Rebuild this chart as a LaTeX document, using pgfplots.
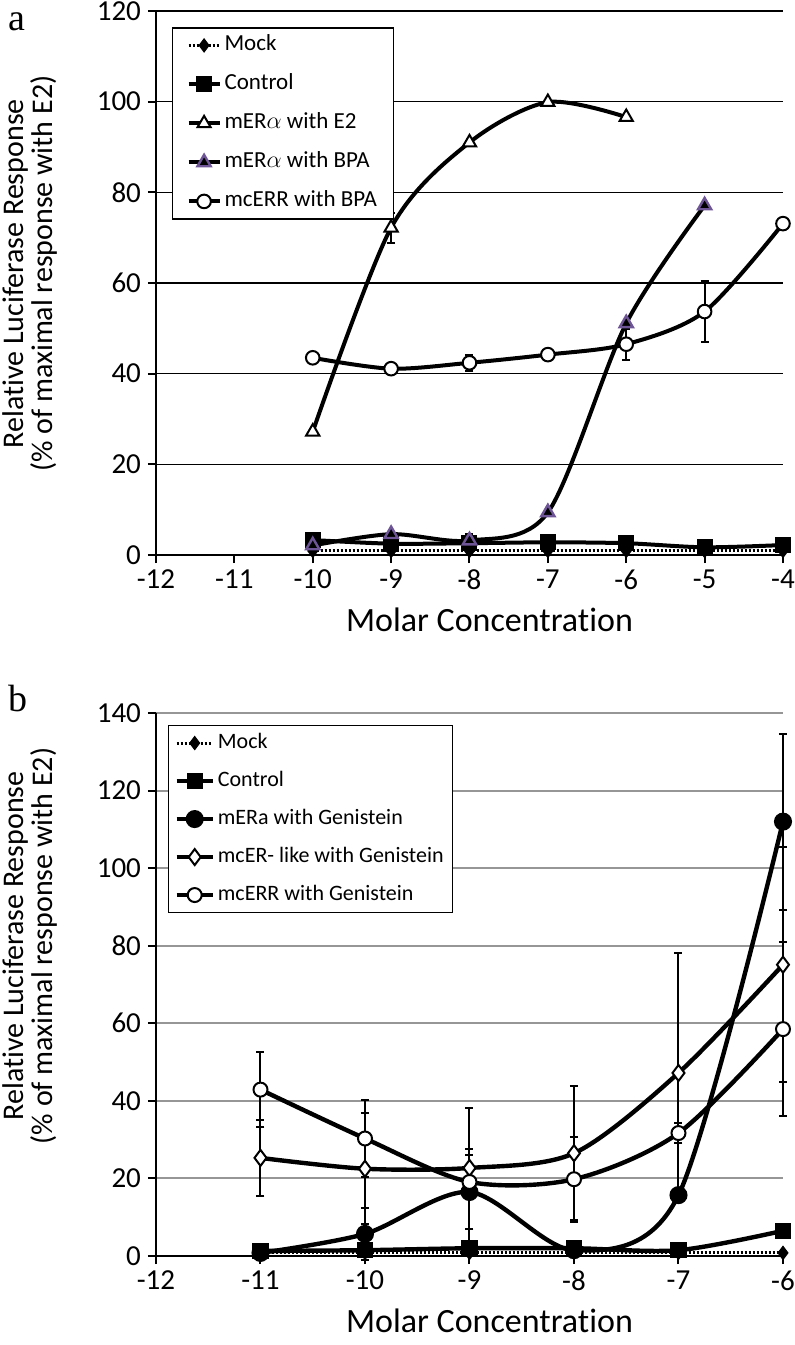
\documentclass[border=0pt]{standalone}
\usepackage{pgfplots}
\pgfplotsset{compat=1.18}
\usepackage{fontspec}
\setmainfont{Carlito}[Ligatures={NoCommon}]
\newfontfamily\panelfont{Liberation Serif}
\definecolor{bpapurple}{RGB}{110,85,150}
\definecolor{gridgray}{RGB}{150,150,150}

\pgfplotsset{
  common/.style={
    scale only axis, width=313.5pt, clip=false,
    axis x line*=bottom, axis y line*=left,
    axis line style={line width=1pt, -},
    tick align=outside, major tick length=4pt,
    tick style={line width=1pt, black},
    ymin=0, xtick distance=1, ytick distance=20,
    ymajorgrids,
    /pgf/number format/assume math mode=true,
    tick label style={font=\fontsize{14.5}{14.5}\selectfont},
    xlabel={Molar Concentration},
    xlabel style={font=\fontsize{17}{17}\selectfont, at={(axis description cs:0.5,0)}, anchor=center, yshift=-32.5pt, xshift=10pt},
    ylabel={Relative Luciferase Response\\(\% of maximal response with E2)},
    ylabel style={font=\fontsize{15}{13}\selectfont, align=center, anchor=center},
    legend cell align=left,
    error bars/y dir=both, error bars/y explicit,
    error bars/error bar style={line width=1pt, black, solid},
    error bars/error mark options={rotate=90, mark size=2pt, line width=1pt, black, solid},
  },
  mock/.style={black, line width=1.5pt, dash pattern=on 1pt off 1pt, mark=diamond*, mark size=3.3pt, mark options={solid, line width=0.5pt}},
  ctrl/.style={black, line width=2pt, smooth, mark=square*, mark size=3pt, mark options={solid}},
}

\begin{document}
\begin{tikzpicture}
\useasboundingbox (0,0) rectangle (397.5pt,-672.5pt);

% ---------- panel a ----------
\begin{axis}[common,
  at={(78pt,-277.5pt)}, anchor=south west,
  height=272pt,
  xmin=-12, xmax=-4, ymax=120,
  major grid style={line width=0.7pt, black},
  ylabel style={at={(axis description cs:-0.201,0.517)}},
  legend style={at={(axis description cs:0.0255,0.97)}, anchor=north west,
    font=\fontsize{11.5}{11.5}\selectfont, draw=black, line width=0.6pt, fill=white,
    inner xsep=7pt, inner ysep=3pt, row sep=8pt,
    nodes={inner xsep=1.5pt, inner ysep=0pt, text height=8.5pt, text depth=3pt}},
  legend image code/.code={\draw[mark repeat=2,mark phase=2,#1] plot coordinates {(0pt,0pt)(7.75pt,0pt)(15.5pt,0pt)};},
]
\addplot[mock] table[x=x,y=y] {
x y
-10 0.9
-9 0.9
-8 0.9
-7 0.9
-6 0.9
-5 0.9
-4 0.9
};
\addlegendentry{Mock}
\addplot[ctrl] table[x=x,y=y] {
x y
-10 3.3
-9 2.5
-8 2.6
-7 2.8
-6 2.6
-5 1.7
-4 2.2
};
\addlegendentry{Control}
\addplot[black, line width=2pt, smooth, mark=triangle*, mark size=3.8pt, mark options={fill=white, line width=1pt}]
  table[x=x,y=y,y error=e] {
x y e
-10 27.2 0
-9 72.2 3.3
-8 91 0
-7 99.9 0
-6 96.6 0
};
\addlegendentry{mER$\alpha$ with E2}
\addplot[black, line width=2pt, smooth, mark=triangle*, mark size=3.8pt, mark options={draw=bpapurple, fill=black, line width=1.2pt}]
  table[x=x,y=y,y error=e] {
x y e
-10 2.1 0
-9 4.6 0
-8 3.2 1.5
-7 9.4 0
-6 51.1 0
-5 77.1 0
};
\addlegendentry{mER$\alpha$ with BPA}
\addplot[black, line width=2pt, smooth, mark=*, mark size=3.4pt, mark options={fill=white, line width=1pt}]
  table[x=x,y=y,y error=e] {
x y e
-10 43.5 0
-9 41.1 0
-8 42.4 1.8
-7 44.2 0
-6 46.5 3.4
-5 53.7 6.8
-4 73.1 0
};
\addlegendentry{mcERR with BPA}
\end{axis}

% ---------- panel b ----------
\begin{axis}[common,
  at={(78pt,-628pt)}, anchor=south west,
  height=271.5pt,
  xmin=-12, xmax=-6, ymax=140,
  major grid style={line width=1pt, gridgray},
  ylabel style={at={(axis description cs:-0.201,0.571)}},
  legend style={at={(axis description cs:0.019,0.978)}, anchor=north west,
    font=\fontsize{11}{11}\selectfont, draw=black, line width=0.6pt, fill=white,
    inner xsep=3pt, inner ysep=3pt, row sep=7.5pt,
    nodes={inner xsep=1.5pt, inner ysep=0pt, text height=8.5pt, text depth=3pt}},
  legend image code/.code={\draw[mark repeat=2,mark phase=2,#1] plot coordinates {(0pt,0pt)(9pt,0pt)(18pt,0pt)};},
]
\addplot[mock] table[x=x,y=y] {
x y
-11 0.8
-10 0.8
-9 0.8
-8 0.8
-7 0.8
-6 0.8
};
\addlegendentry{Mock}
\addplot[ctrl, line width=2.2pt] table[x=x,y=y] {
x y
-11 1.3
-10 1.5
-9 2
-8 2
-7 1.5
-6 6.5
};
\addlegendentry{Control}
\addplot[black, line width=2.2pt, smooth, mark=*, mark size=3.4pt, mark options={fill=black}]
  table[x=x,y=y,y error=e] {
x y e
-11 0.8 0
-10 5.7 6.7
-9 16.5 9.5
-8 1.5 0
-7 15.7 1.2
-6 112 22.7
};
\addlegendentry{mERa with Genistein}
\addplot[black, line width=2.2pt, smooth, mark=diamond*, mark size=4pt, mark options={fill=white, line width=1pt}]
  table[x=x,y=y,y error=e] {
x y e
-11 25.3 9.7
-10 22.5 14.3
-9 22.7 5
-8 26.5 17.3
-7 47.2 30.8
-6 75.1 30.3
};
\addlegendentry{mcER- like with Genistein}
\addplot[black, line width=2.2pt, smooth, mark=*, mark size=3.5pt, mark options={fill=white, line width=1pt}]
  table[x=x,y=y,y error=e] {
x y e
-11 42.9 9.7
-10 30.3 9.9
-9 19.1 19
-8 19.8 11
-7 31.7 2.6
-6 58.5 22.4
};
\addlegendentry{mcERR with Genistein}
\end{axis}

\node[font=\panelfont\fontsize{19}{19}\selectfont, anchor=base west, inner sep=0pt] at (4pt,-15pt) {a};
\node[font=\panelfont\fontsize{19}{19}\selectfont, anchor=base west, inner sep=0pt] at (4pt,-355.5pt) {b};
\end{tikzpicture}
\end{document}
